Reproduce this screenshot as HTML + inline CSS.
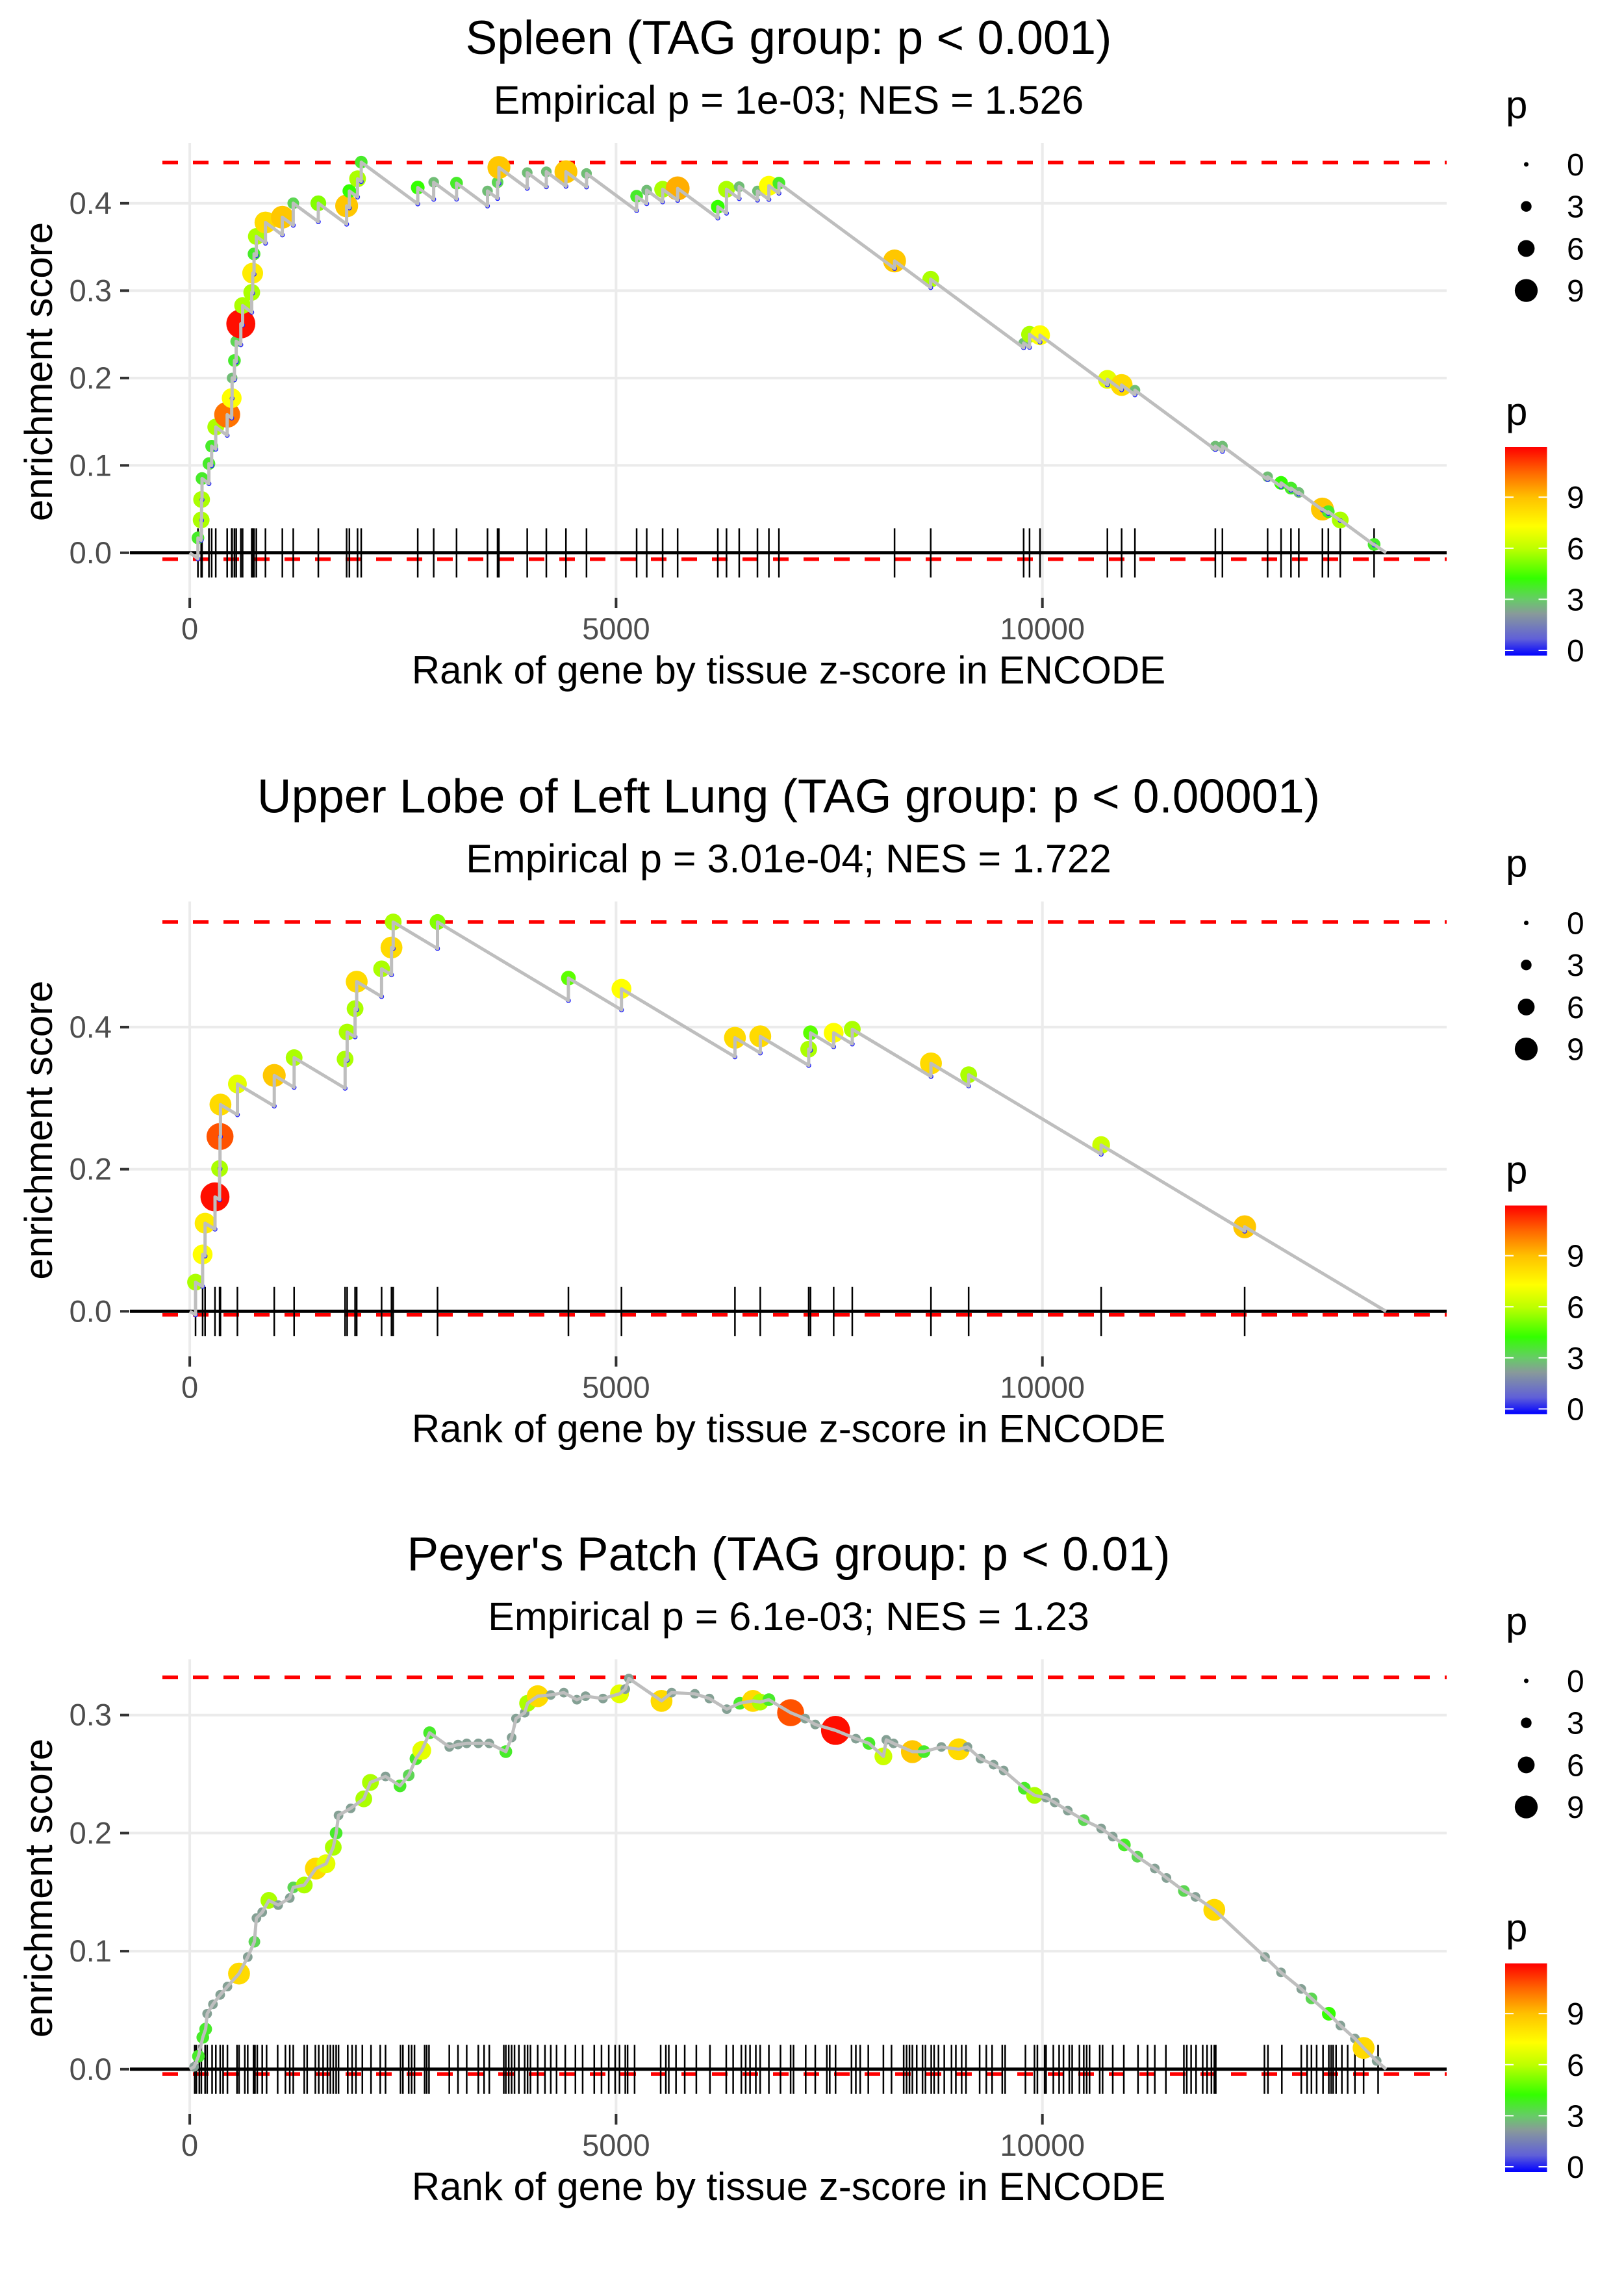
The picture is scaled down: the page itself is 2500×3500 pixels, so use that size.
<!DOCTYPE html>
<html><head><meta charset="utf-8"><style>
html,body{margin:0;padding:0;background:#fff}
svg{display:block}
text{font-family:"Liberation Sans",Arial,sans-serif}
</style></head><body>
<svg id="chart" xmlns="http://www.w3.org/2000/svg" width="2500" height="3500" viewBox="0 0 2500 3500">
<defs>
<linearGradient id="pgrad" x1="0" y1="1" x2="0" y2="0">
<stop offset="0" stop-color="#0000ff"/>
<stop offset="0.08" stop-color="#6060d8"/>
<stop offset="0.2" stop-color="#889a9a"/>
<stop offset="0.27" stop-color="#66cc66"/>
<stop offset="0.37" stop-color="#33ff00"/>
<stop offset="0.51" stop-color="#bbff00"/>
<stop offset="0.62" stop-color="#ffff00"/>
<stop offset="0.76" stop-color="#ffc000"/>
<stop offset="0.88" stop-color="#ff6600"/>
<stop offset="1" stop-color="#ff0000"/>
</linearGradient>
</defs>
</svg>
<script>
// ---------- data ----------
const titles = ["Spleen (TAG group: p < 0.001)", "Upper Lobe of Left Lung (TAG group: p < 0.00001)", "Peyer's Patch (TAG group: p < 0.01)"];
const subtitles = ["Empirical p = 1e-03; NES = 1.526", "Empirical p = 3.01e-04; NES = 1.722", "Empirical p = 6.1e-03; NES = 1.23"];
const xTicks = [0, 5000, 10000];
const xTickLabels = ["0", "5000", "10000"];
const yTicks1 = [0, 0.1, 0.2, 0.3, 0.4];
const yTicks2 = [0, 0.2, 0.4];
const yTicks3 = [0, 0.1, 0.2, 0.3];
const sizeLegendValues = [0, 3, 6, 9];
const colorLegendValues = [0, 3, 6, 9];
const nGenes = 14030;
const maxES = [0.4465, 0.548, 0.332];
const minES = [-0.0073, -0.005, -0.004];

const rank1 = [96,134,139,144,225,257,305,439,492,497,524,545,599,620,727,738,754,781,888,1086,1214,1508,1840,1872,1968,2011,2674,2861,3129,3492,3610,3626,3958,4182,4412,4653,5241,5359,5546,5722,6193,6295,6444,6658,6792,6910,8266,8690,9780,9849,9972,10762,10929,11085,12028,12111,12641,12799,12915,13007,13284,13353,13493,13890];
const es1 = [.017,.0375,.061,.085,.102,.122,.144,.158,.177,.2,.22,.242,.262,.283,.298,.32,.342,.362,.378,.384,.4,.4,.397,.414,.428,.447,.418,.424,.423,.414,.424,.441,.435,.436,.436,.434,.408,.415,.416,.417,.396,.416,.419,.414,.42,.423,.334,.313,.24,.25,.249,.1985,.192,.186,.122,.122,.087,.080,.074,.069,.050,.047,.0375,.0095];
const p1 = [4,6,6,4,4,4,6,10.5,7.5,3,4,3.5,12,6,6,8,4,6,8.5,9,3.5,5.5,9,4.5,6,4,4.5,3,4,3,3.5,9,3,3,9,3,4,3,6,9.5,4.5,6,3,3,7.5,4,9,6,3,6,7.5,7,8.5,3,3,3,3,4.5,4,3,9,4,6,4];

const rank2 = [68,151,180,296,350,355,360,559,991,1224,1822,1846,1939,1958,2250,2366,2386,2906,4441,5063,6394,6691,7259,7280,7552,7770,8693,9135,10689,12372];
const es2 = [.041,.080,.124,.161,.201,.246,.291,.320,.332,.357,.355,.393,.426,.464,.482,.512,.548,.548,.469,.454,.385,.387,.369,.392,.392,.397,.349,.333,.234,.119];
const p2 = [6,7.5,8,12,6,11,8.5,7,9,6,6,6,6,8.5,6,8.5,6,5.5,5,7.5,8.5,8.5,6,5,7.5,6,8.5,6,6.5,9];

const rank3 = [51,102,153,187,204,272,357,442,578,680,758,782,850,928,1037,1173,1214,1343,1479,1598,1683,1717,1745,1888,2041,2119,2296,2466,2568,2653,2721,2813,3044,3146,3248,3384,3513,3707,3775,3826,3928,3962,4081,4234,4387,4540,4642,4846,5040,5108,5150,5533,5652,5924,6094,6298,6451,6605,6690,6792,7047,7217,7336,7574,7812,7965,8135,8169,8254,8475,8611,8815,9019,9121,9274,9427,9546,9788,9907,10043,10145,10298,10485,10689,10825,10961,11114,11318,11455,11659,11795,12016,12611,12798,13036,13155,13359,13495,13665,13767,13920];
const es3 = [.002,.011,.027,.034,.047,.055,.063,.070,.081,.095,.108,.128,.133,.143,.139,.145,.154,.156,.170,.174,.188,.200,.215,.221,.229,.243,.248,.240,.249,.263,.270,.285,.273,.275,.276,.276,.276,.269,.281,.297,.302,.310,.316,.317,.319,.313,.316,.314,.318,.322,.331,.312,.319,.318,.314,.305,.310,.312,.311,.313,.302,.297,.292,.287,.280,.276,.265,.279,.276,.269,.269,.273,.271,.273,.263,.258,.253,.238,.232,.230,.226,.219,.211,.204,.197,.190,.180,.170,.162,.151,.146,.135,.095,.082,.068,.060,.047,.037,.026,.018,.007];
const p3 = [2.5,4,4,4,2.5,2.5,2.5,2.5,8.5,2.5,3.5,2.5,2.5,6,2.5,2.5,3.5,6,8.5,7,6,4,2.5,2.5,6,6,2.5,4,3.5,4,7,4,2.5,2.5,2.5,2.5,2.5,4,2.5,2.5,2.5,6,8.5,2.5,2.5,2.5,2.5,2.5,7,2.5,2.5,8.5,2.5,2.5,2.5,2.5,4,8.5,6,4,11,2.5,2.5,12,2.5,4,6.5,2.5,2.5,9,4,2.5,8.5,2.5,2.5,2.5,2.5,4,6,2.5,2.5,2.5,3.5,2.5,2.5,4,3.5,2.5,2.5,3.5,2.5,8.5,2.5,2.5,2.5,3.5,4.5,2.5,2.5,8.5,2.5];
const rug3 = [58,78,112,136,180,204,262,306,357,391,442,554,578,646,680,748,765,792,850,901,1031,1122,1173,1214,1343,1377,1473,1513,1564,1615,1649,1683,1717,1745,1853,1904,1949,2024,2126,2234,2296,2472,2500,2568,2602,2636,2755,2779,2806,3044,3146,3248,3384,3452,3513,3683,3707,3741,3775,3809,3860,3928,3962,3996,4081,4166,4234,4302,4404,4523,4608,4744,4829,4914,4989,5040,5108,5135,5217,5523,5584,5618,5703,5805,5941,6101,6292,6373,6469,6520,6571,6639,6690,6792,6928,7047,7081,7224,7336,7472,7506,7574,7761,7812,7863,7958,8135,8230,8373,8407,8441,8475,8526,8594,8628,8696,8730,8781,8849,8934,8985,9053,9104,9264,9342,9410,9529,9563,9801,9907,9941,10026,10043,10128,10196,10247,10315,10349,10434,10485,10519,10553,10672,10706,10825,10955,11121,11233,11318,11448,11659,11693,11744,11802,11880,11931,11982,12016,12033,12604,12645,12808,13036,13104,13155,13216,13291,13359,13386,13410,13444,13512,13580,13665,13767,13937];

// ---------- layout (styles / geometry) ----------
const NS = "http://www.w3.org/2000/svg";
const svg = document.getElementById("chart");
const panelOff = [0, 1167.5, 2334];
const zeroPx = [850.8, 2018.3, 3184.8];
const unitPx = [1344.9, 1093.5, 1817];
const X0 = 292.1, XK = 0.13126, PL = 200, PR = 2227;
const decline = 7.2e-5;
function xs(r){ return X0 + r * XK; }
function ysFn(i){ return v => zeroPx[i] - v * unitPx[i]; }
function rad(p){ return 3.5 + 1.57 * p; }
const cstops = [[0,[0,0,255]],[1,[96,96,216]],[2.4,[136,154,154]],[3.25,[102,204,102]],[4.5,[51,255,0]],[6.2,[187,255,0]],[7.5,[255,255,0]],[9.2,[255,192,0]],[10.7,[255,102,0]],[12.2,[255,0,0]]];
function col(p){
  for (let i=1;i<cstops.length;i++){
    if (p <= cstops[i][0]){
      const a=cstops[i-1], b=cstops[i], t=(p-a[0])/(b[0]-a[0]);
      const c=a[1].map((v,j)=>Math.round(v+(b[1][j]-v)*Math.max(0,t)));
      return `rgb(${c[0]},${c[1]},${c[2]})`;
    }
  }
  return "rgb(255,0,0)";
}
function mk(tag, attrs, parent){
  const e = document.createElementNS(NS, tag);
  for (const k in attrs) e.setAttribute(k, attrs[k]);
  (parent||svg).appendChild(e);
  return e;
}

const yTickSets = [yTicks1, yTicks2, yTicks3];
const ranks = [rank1, rank2, rank3];
const ess = [es1, es2, es3];
const ps = [p1, p2, p3];
const rugs = [rank1, rank2, rug3];

for (let i=0;i<3;i++){
  const off = panelOff[i], Y = ysFn(i);
  const top = 220 + off, bot = 890 + off;
  const g = mk("g", {});
  
  

  const t = mk("text", {x:1214, y:83+off, "text-anchor":"middle", "font-size":73, fill:"#000"}, g);
  t.textContent = titles[i];
  
  
  const st = mk("text", {x:1214, y:175+off, "text-anchor":"middle", "font-size":61, fill:"#000"}, g);
  st.textContent = subtitles[i];
  
  

  // gridlines
  yTickSets[i].forEach(v=>{
    const gl = mk("line", {x1:PL, x2:PR, y1:Y(v), y2:Y(v), stroke:"#ebebeb", "stroke-width":4}, g);
    
    
    const tk = mk("line", {x1:185, x2:199, y1:Y(v), y2:Y(v), stroke:"#333", "stroke-width":4}, g);
    
    
    const tl = mk("text", {x:172, y:Y(v)+16, "text-anchor":"end", "font-size":47, fill:"#4d4d4d"}, g);
    tl.textContent = v.toFixed(1);
    
    
  });
  xTicks.forEach((v,j)=>{
    const gl = mk("line", {x1:xs(v), x2:xs(v), y1:top, y2:bot+30, stroke:"#ebebeb", "stroke-width":4}, g);
    
    
    const tk = mk("line", {x1:xs(v), x2:xs(v), y1:920+off, y2:936+off, stroke:"#333", "stroke-width":4}, g);
    
    
    const tl = mk("text", {x:xs(v), y:984+off, "text-anchor":"middle", "font-size":47, fill:"#4d4d4d"}, g);
    tl.textContent = xTickLabels[j];
    
    
  });

  const xt = mk("text", {x:1214, y:1052+off, "text-anchor":"middle", "font-size":60, fill:"#000"}, g);
  xt.textContent = "Rank of gene by tissue z-score in ENCODE";
  
  
  const yt = mk("text", {x:80, y:572+off, "text-anchor":"middle", "font-size":60, fill:"#000", transform:`rotate(-90 80 ${572+off})`}, g);
  yt.textContent = "enrichment score";
  
  

  // zero line
  const zl = mk("line", {x1:PL, x2:PR, y1:Y(0), y2:Y(0), stroke:"#000", "stroke-width":5}, g);
  
  
  // red dashed lines
  [maxES[i], minES[i]].forEach((v,j)=>{
    const rl = mk("line", {x1:PL+50, x2:PR, y1:Y(v), y2:Y(v), stroke:"#ff0000", "stroke-width":5.5, "stroke-dasharray":"24 23"}, g);
    
    
  });
  // rug
  rugs[i].forEach(r=>{
    const rt = mk("line", {x1:xs(r), x2:xs(r), y1:Y(0)-37.5, y2:Y(0)+38, stroke:"#000", "stroke-width":2.5}, g);
    
    
  });

  // running sum line
  const R = ranks[i], E = ess[i], P = ps[i];
  let pts = [[xs(0), Y(0)]];
  const pre = [];
  if (i < 2){
    let pr = 0, pe = 0;
    for (let k=0;k<R.length;k++){
      const pv = pe - decline*(R[k]-pr);
      pts.push([xs(R[k]), Y(pv)]);
      pre.push([xs(R[k]), Y(pv)]);
      pts.push([xs(R[k]), Y(E[k])]);
      pr = R[k]; pe = E[k];
    }
  } else {
    for (let k=0;k<R.length;k++) pts.push([xs(R[k]), Y(E[k])]);
  }
  pts.push([xs(nGenes), Y(0)]);

  // points (drawn under line like reference)
  for (let k=0;k<R.length;k++){
    const c = mk("circle", {cx:xs(R[k]), cy:Y(E[k]), r:rad(P[k]), fill:col(P[k])}, g);
    
    
  }
  pre.forEach(q=>{
    const c = mk("circle", {cx:q[0], cy:q[1], r:3, fill:"none", stroke:"#2020ff", "stroke-width":1.5}, g);
    
    
  });
  const pl = mk("polyline", {points:pts.map(q=>q[0].toFixed(1)+","+q[1].toFixed(1)).join(" "), fill:"none", stroke:"#bebebe", "stroke-width":5, "stroke-linejoin":"round"}, g);
  
  

  // size legend
  const sl = mk("text", {x:2318, y:182+off, "font-size":60, fill:"#000"}, g);
  sl.textContent = "p";
  
  
  sizeLegendValues.forEach((v,j)=>{
    const cy = 253 + j*64.7 + off;
    const d = mk("circle", {cx:2349.5, cy:cy, r:rad(v), fill:"#000"}, g);
    
    
    const lt = mk("text", {x:2412, y:cy+17, "font-size":48, fill:"#000"}, g);
    lt.textContent = String(v);
    
    
  });
  // color legend
  const cl = mk("text", {x:2318, y:654+off, "font-size":60, fill:"#000"}, g);
  cl.textContent = "p";
  
  
  const bar = mk("rect", {x:2317, y:688+off, width:64.5, height:321, fill:"url(#pgrad)"}, g);
  
  
  colorLegendValues.forEach(v=>{
    const cy = 1001 - v*26.2 + off;
    [[2317,2330],[2368.5,2381.5]].forEach(s=>{
      const w = mk("line", {x1:s[0], x2:s[1], y1:cy, y2:cy, stroke:"#fff", "stroke-width":2}, g);
      
      
    });
    const lt = mk("text", {x:2412, y:cy+17, "font-size":48, fill:"#000"}, g);
    lt.textContent = String(v);
    
    
  });
}
</script>
</body></html>
